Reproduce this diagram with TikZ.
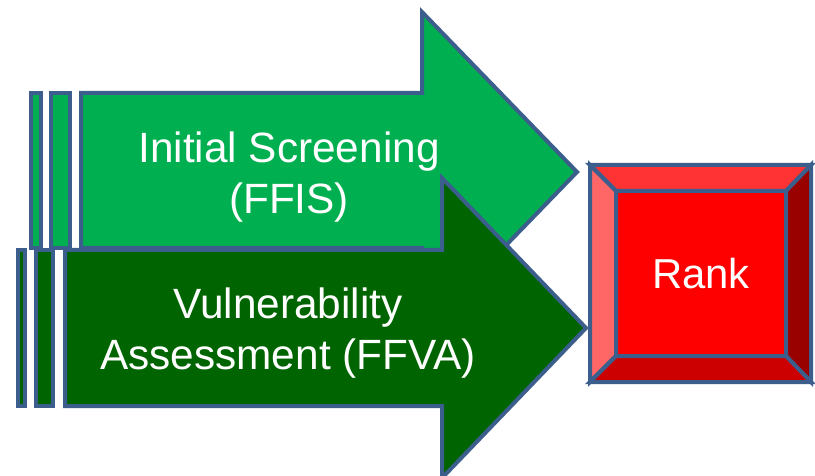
\documentclass[tikz,border=0pt]{standalone}
\usepackage{fontspec}
\setmainfont{Liberation Sans}
\definecolor{edgeblue}{HTML}{3B5E8C}
\definecolor{lightgreen}{HTML}{00B050}
\definecolor{darkgreen}{HTML}{006400}
\definecolor{bevtop}{HTML}{FF3333}
\definecolor{bevleft}{HTML}{FF6666}
\definecolor{bevright}{HTML}{990000}
\definecolor{bevbottom}{HTML}{CC0000}

\begin{document}
\begin{tikzpicture}
	[x=1bp,y=-1bp,
	 outline/.style={draw=edgeblue,line width=4bp,line join=miter},
	 lightarrow/.style={outline,fill=lightgreen},
	 darkarrow/.style={outline,fill=darkgreen},
	 arrowtext/.style={text=white,align=center,font=\fontsize{42.5}{52}\selectfont},
	 rankbox/.style={outline,fill=red,text=white,outer sep=0pt,inner sep=0pt,
	   minimum width=170bp,minimum height=165bp,font=\fontsize{42}{52}\selectfont}];
\useasboundingbox (0,0) rectangle (815,476);

% upper arrow
\draw[lightarrow] (31,93) rectangle (41,248);
\draw[lightarrow] (51,93) rectangle (70,248);
\draw[lightarrow] (81,93) -- (422,93) -- (422,12) -- (577,172) -- (422,332)
	-- (422,248) -- (81,248) -- cycle;
\node[arrowtext] (screen) at (289,177) {Initial Screening\\(FFIS)};

% lower arrow
\draw[darkarrow] (18,250) rectangle (25,406);
\draw[darkarrow] (36,250) rectangle (53,406);
\draw[darkarrow] (65,250) -- (442,250) -- (442,178) -- (586,328) -- (442,478)
	-- (442,406) -- (65,406) -- cycle;
\node[arrowtext] (vuln) at (288,333) {Vulnerability\\Assessment (FFVA)};

% rank button
\node[rankbox] (rank) at (701,273.5) {Rank};
\coordinate (nw) at (590,165);
\coordinate (ne) at (811,165);
\coordinate (se) at (811,382);
\coordinate (sw) at (590,382);
\filldraw[outline,fill=bevtop] (nw) -- (ne) -- (rank.north east) -- (rank.north west) -- cycle;
\filldraw[outline,fill=bevleft] (nw) -- (rank.north west) -- (rank.south west) -- (sw) -- cycle;
\filldraw[outline,fill=bevright] (ne) -- (se) -- (rank.south east) -- (rank.north east) -- cycle;
\filldraw[outline,fill=bevbottom] (sw) -- (rank.south west) -- (rank.south east) -- (se) -- cycle;
\end{tikzpicture}
\end{document}
